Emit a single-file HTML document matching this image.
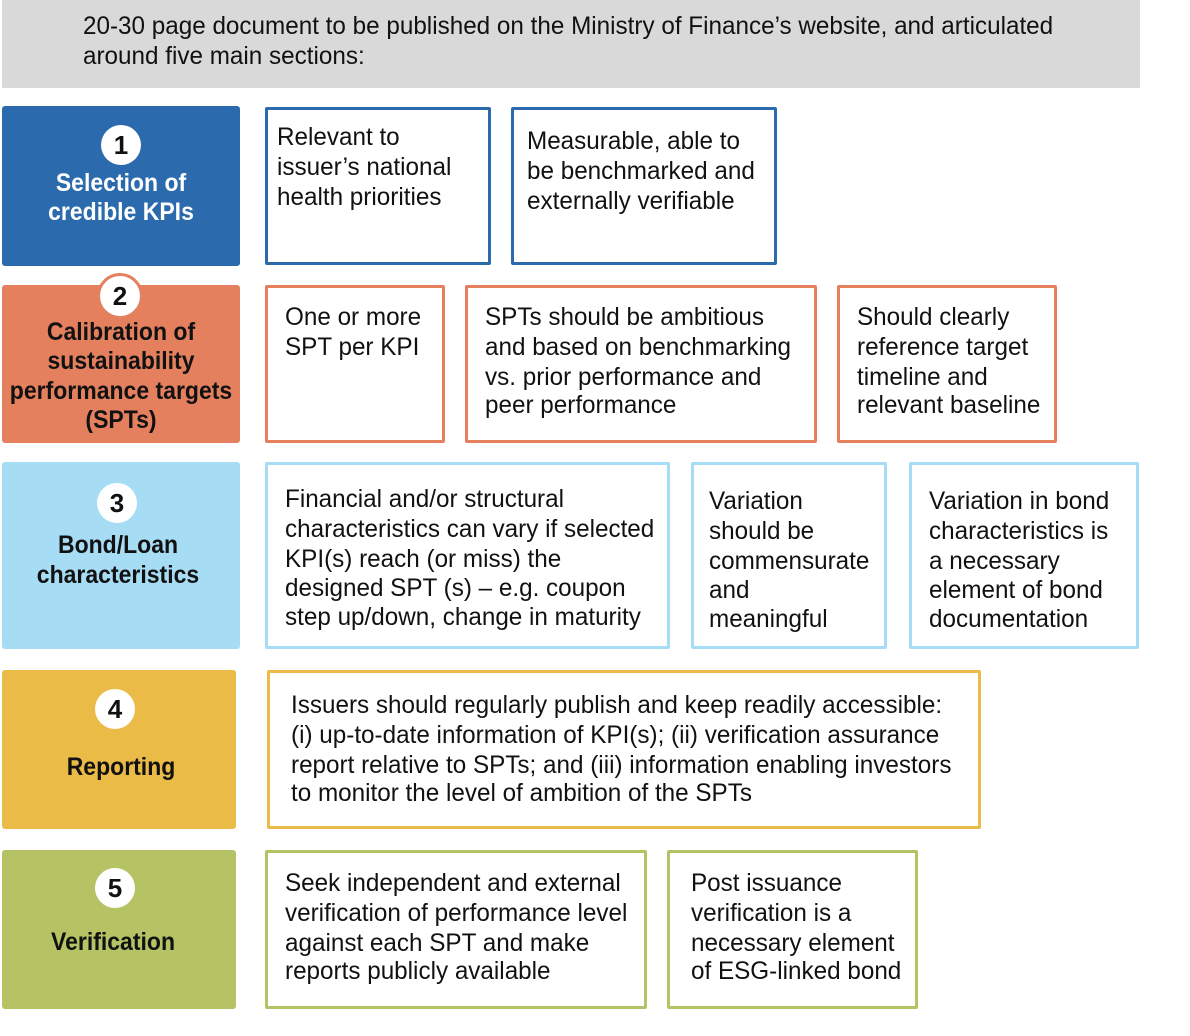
<!DOCTYPE html>
<html><head><meta charset="utf-8"><style>
body{margin:0;width:1190px;height:1036px;background:#fff;position:relative;overflow:hidden;font-family:"Liberation Sans",sans-serif;}
.b{position:absolute;box-sizing:border-box;}
.o{background:#fff;border:3px solid;border-radius:2px;}
.l{position:absolute;white-space:nowrap;font-size:25px;line-height:30px;transform:scaleX(.97);transform-origin:left center;color:#111;}
.c{position:absolute;white-space:nowrap;font-size:25px;line-height:30px;font-weight:bold;transform:translateX(-50%) scaleX(.92);text-align:center;color:#111;}
.n{position:absolute;width:40px;height:40px;border-radius:50%;background:#fff;font-weight:bold;font-size:26px;line-height:40px;text-align:center;color:#111;}
</style></head><body>
<div class="b" style="left:2px;top:0;width:1138px;height:88px;background:#d9d9d9"></div>
<div class="l" style="left:83px;top:11px">20-30 page document to be published on the Ministry of Finance’s website, and articulated</div>
<div class="l" style="left:83px;top:41px">around five main sections:</div>

<div class="b" style="left:2px;top:106px;width:238px;height:160px;background:#2a6aad;border-radius:3px"></div>
<div class="n" style="left:101px;top:125px">1</div>
<div class="c" style="left:121px;top:168px;color:#fff">Selection of</div>
<div class="c" style="left:121px;top:197px;color:#fff">credible KPIs</div>
<div class="b o" style="left:265px;top:107px;width:226px;height:158px;border-color:#2a6aad"></div>
<div class="b o" style="left:511px;top:107px;width:266px;height:158px;border-color:#2a6aad"></div>
<div class="l" style="left:277px;top:122px">Relevant to</div>
<div class="l" style="left:277px;top:152px">issuer’s national</div>
<div class="l" style="left:277px;top:182px">health priorities</div>
<div class="l" style="left:527px;top:126px">Measurable, able to</div>
<div class="l" style="left:527px;top:156px">be benchmarked and</div>
<div class="l" style="left:527px;top:186px">externally verifiable</div>

<div class="b" style="left:2px;top:285px;width:238px;height:158px;background:#e5805f;border-radius:3px"></div>
<div class="n" style="left:97px;top:273px;border:3px solid #e5805f;">2</div>
<div class="c" style="left:121px;top:317px">Calibration of</div>
<div class="c" style="left:121px;top:346px">sustainability</div>
<div class="c" style="left:121px;top:376px">performance targets</div>
<div class="c" style="left:121px;top:405px">(SPTs)</div>
<div class="b o" style="left:265px;top:285px;width:180px;height:158px;border-color:#e5805f"></div>
<div class="b o" style="left:465px;top:285px;width:352px;height:158px;border-color:#e5805f"></div>
<div class="b o" style="left:837px;top:285px;width:220px;height:158px;border-color:#e5805f"></div>
<div class="l" style="left:285px;top:302px">One or more</div>
<div class="l" style="left:285px;top:332px">SPT per KPI</div>
<div class="l" style="left:485px;top:302px">SPTs should be ambitious</div>
<div class="l" style="left:485px;top:332px">and based on benchmarking</div>
<div class="l" style="left:485px;top:362px">vs. prior performance and</div>
<div class="l" style="left:485px;top:390px">peer performance</div>
<div class="l" style="left:857px;top:302px">Should clearly</div>
<div class="l" style="left:857px;top:332px">reference target</div>
<div class="l" style="left:857px;top:362px">timeline and</div>
<div class="l" style="left:857px;top:390px">relevant baseline</div>

<div class="b" style="left:2px;top:462px;width:238px;height:187px;background:#a6dcf4;border-radius:3px"></div>
<div class="n" style="left:97px;top:483px">3</div>
<div class="c" style="left:118px;top:530px">Bond/Loan</div>
<div class="c" style="left:118px;top:560px">characteristics</div>
<div class="b o" style="left:265px;top:462px;width:405px;height:187px;border-color:#a6dcf4"></div>
<div class="b o" style="left:691px;top:462px;width:196px;height:187px;border-color:#a6dcf4"></div>
<div class="b o" style="left:909px;top:462px;width:230px;height:187px;border-color:#a6dcf4"></div>
<div class="l" style="left:285px;top:484px">Financial and/or structural</div>
<div class="l" style="left:285px;top:514px">characteristics can vary if selected</div>
<div class="l" style="left:285px;top:544px">KPI(s) reach (or miss) the</div>
<div class="l" style="left:285px;top:573px">designed SPT (s) – e.g. coupon</div>
<div class="l" style="left:285px;top:602px">step up/down, change in maturity</div>
<div class="l" style="left:709px;top:486px">Variation</div>
<div class="l" style="left:709px;top:516px">should be</div>
<div class="l" style="left:709px;top:546px">commensurate</div>
<div class="l" style="left:709px;top:575px">and</div>
<div class="l" style="left:709px;top:604px">meaningful</div>
<div class="l" style="left:929px;top:486px">Variation in bond</div>
<div class="l" style="left:929px;top:516px">characteristics is</div>
<div class="l" style="left:929px;top:546px">a necessary</div>
<div class="l" style="left:929px;top:575px">element of bond</div>
<div class="l" style="left:929px;top:604px">documentation</div>

<div class="b" style="left:2px;top:670px;width:234px;height:159px;background:#ebbb48;border-radius:3px"></div>
<div class="n" style="left:95px;top:689px">4</div>
<div class="c" style="left:121px;top:752px">Reporting</div>
<div class="b o" style="left:267px;top:670px;width:714px;height:159px;border-color:#ebbb48"></div>
<div class="l" style="left:291px;top:690px">Issuers should regularly publish and keep readily accessible:</div>
<div class="l" style="left:291px;top:720px">(i) up-to-date information of KPI(s); (ii) verification assurance</div>
<div class="l" style="left:291px;top:750px">report relative to SPTs; and (iii) information enabling investors</div>
<div class="l" style="left:291px;top:778px">to monitor the level of ambition of the SPTs</div>

<div class="b" style="left:2px;top:850px;width:234px;height:159px;background:#b5c365;border-radius:3px"></div>
<div class="n" style="left:95px;top:868px">5</div>
<div class="c" style="left:113px;top:927px">Verification</div>
<div class="b o" style="left:265px;top:850px;width:382px;height:159px;border-color:#b5c365"></div>
<div class="b o" style="left:667px;top:850px;width:251px;height:159px;border-color:#b5c365"></div>
<div class="l" style="left:285px;top:868px">Seek independent and external</div>
<div class="l" style="left:285px;top:898px">verification of performance level</div>
<div class="l" style="left:285px;top:928px">against each SPT and make</div>
<div class="l" style="left:285px;top:956px">reports publicly available</div>
<div class="l" style="left:691px;top:868px">Post issuance</div>
<div class="l" style="left:691px;top:898px">verification is a</div>
<div class="l" style="left:691px;top:928px">necessary element</div>
<div class="l" style="left:691px;top:956px">of ESG-linked bond</div>
</body></html>
